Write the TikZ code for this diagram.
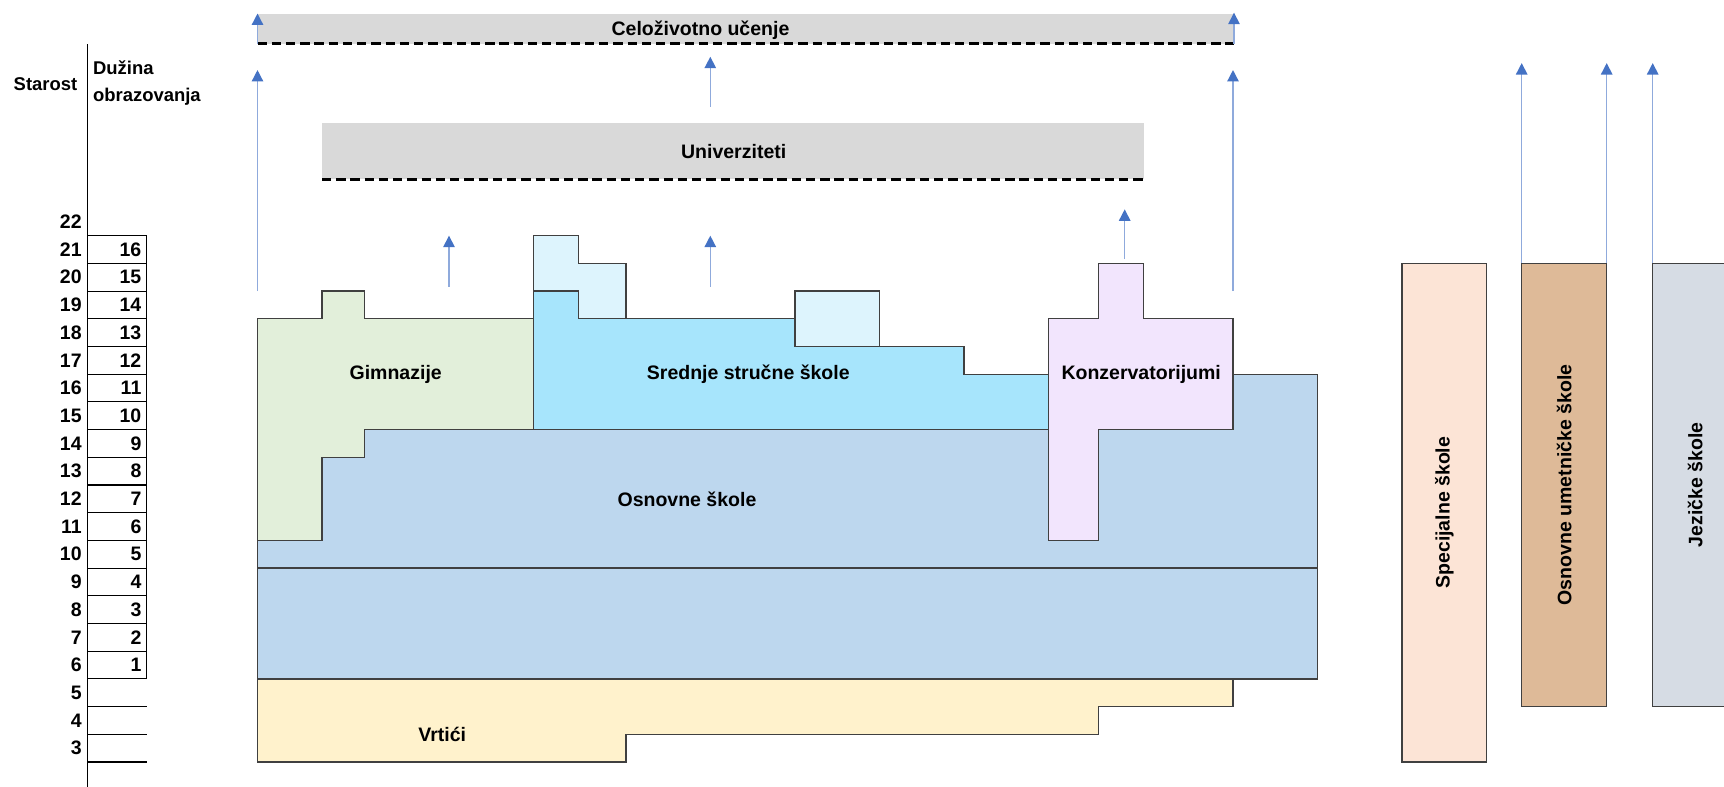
\documentclass[tikz,border=0pt]{standalone}
\usepackage{fontspec}
\setmainfont{Liberation Sans}
\usepackage{xcolor}
\usepackage{tikz}
\usetikzlibrary{positioning,%
  arrows.meta%
}

\definecolor{sivo}{HTML}{D9D9D9}
\definecolor{zelena}{HTML}{E2EFDA}
\definecolor{osnplava}{HTML}{BDD7EE}
\definecolor{tirkiz}{HTML}{A7E5FC}
\definecolor{bledoplava}{HTML}{DDF4FD}
\definecolor{lila}{HTML}{F2E5FD}
\definecolor{zuta}{HTML}{FFF2CC}
\definecolor{breskva}{HTML}{FCE4D6}
\definecolor{bez}{HTML}{DEBA98}
\definecolor{sivoplava}{HTML}{D6DCE4}
\definecolor{linijaplava}{HTML}{8FAADC}
\definecolor{strelicaplava}{HTML}{4472C4}

\begin{document}
\begin{tikzpicture}
  [
    x=1cm, y=0.554cm,
    every node/.style={font=\bfseries\fontsize{11.1}{13}\selectfont, inner sep=0pt},
    blok/.style={draw=black!75, line width=0.75pt},
    strelica/.style={draw=linijaplava, line width=0.8pt,
      -{Triangle[length=6.5pt,width=6.5pt,color=strelicaplava]}},
    crtkano/.style={line width=1.7pt, dash pattern=on 5.3pt off 2.8pt},
    broj/.style={anchor=east},
    zaglavlje/.style={font=\bfseries\fontsize{10.5}{15.2}\selectfont}
  ]

  \useasboundingbox (0,2.0975) rectangle (34.48,30.509);
  \clip (0,2.0975) rectangle (34.48,30.509);

  % starost i duzina obrazovanja
  \draw[line width=0.7pt] (1.746,2.0975) -- (1.746,28.92);
  \node[zaglavlje] (starost) at (0.91,27.48) {Starost};
  \node[zaglavlje, align=left, anchor=west] (duzina) at (1.854,27.5) {Dužina\\obrazovanja};
  \foreach \a in {3,...,22}
    \node[broj] (age\a) at (1.64,\a+0.5) {\a};
  \foreach \d in {1,...,16} {
    \pgfmathtruncatemacro\a{\d+5}
    \draw[line width=0.6pt] (1.746,\a) rectangle (2.934,\a+1);
    \node[broj] (dur\d) at (2.834,\a+0.5) {\d};
  }
  \foreach \a in {3,4,5}
    \draw[line width=0.6pt] (1.746,\a) -- (2.934,\a);

  % celozivotno ucenje i univerziteti
  \fill[sivo] (5.15,28.93) rectangle (24.68,30);
  \draw[crtkano] (5.15,28.93) -- (24.68,28.93);
  \fill[sivo] (6.44,24.03) rectangle (22.87,26.06);
  \draw[crtkano] (6.44,24.03) -- (22.87,24.03);

  \foreach \x/\ya/\yb [count=\i] in {5.15/28.93/30.02, 24.68/28.93/30.05,
      5.15/20/27.98, 14.206/26.66/28.46, 24.66/20/27.98,
      8.98/20.16/22, 14.206/20.16/22, 22.494/21.15/22.95,
      30.434/21/28.23, 32.134/21/28.23, 33.054/21/28.23} {
    \coordinate (od\i) at (\x,\ya);
    \coordinate (do\i) at (\x,\yb);
    \draw[strelica] (od\i) -- (do\i);
  }

  % osnovne skole
  \draw[blok, fill=osnplava] (5.15,6) rectangle (26.354,10);
  \draw[blok, fill=osnplava] (5.15,10) -- (5.15,11) -- (6.44,11) -- (6.44,14)
    -- (7.29,14) -- (7.29,15) -- (24.66,15) -- (24.66,17) -- (26.354,17)
    -- (26.354,10) -- cycle;

  % gimnazije
  \draw[blok, fill=zelena] (5.15,11) -- (5.15,19) -- (6.44,19) -- (6.44,20)
    -- (7.29,20) -- (7.29,19) -- (10.666,19) -- (10.666,15) -- (7.29,15)
    -- (7.29,14) -- (6.44,14) -- (6.44,11) -- cycle;

  % srednje strucne skole
  \draw[blok, fill=bledoplava] (10.666,19) -- (10.666,22) -- (11.57,22)
    -- (11.57,21) -- (12.52,21) -- (12.52,19) -- cycle;
  \draw[blok, fill=bledoplava] (15.9,18) rectangle (17.586,20);
  \draw[blok, fill=tirkiz] (10.666,15) -- (10.666,20) -- (11.57,20)
    -- (11.57,19) -- (15.9,19) -- (15.9,18) -- (19.28,18) -- (19.28,17)
    -- (20.966,17) -- (20.966,15) -- cycle;

  % konzervatorijumi
  \draw[blok, fill=lila] (20.966,11) -- (20.966,19) -- (21.966,19)
    -- (21.966,21) -- (22.87,21) -- (22.87,19) -- (24.66,19) -- (24.66,15)
    -- (21.966,15) -- (21.966,11) -- cycle;

  % vrtici
  \draw[blok, fill=zuta] (5.15,3) -- (5.15,6) -- (24.66,6) -- (24.66,5)
    -- (21.966,5) -- (21.966,4) -- (12.52,4) -- (12.52,3) -- cycle;

  % ostale skole
  \draw[blok, fill=breskva] (28.04,3) rectangle (29.734,21);
  \draw[blok, fill=bez] (30.434,5) rectangle (32.134,21);
  \draw[blok, fill=sivoplava] (33.054,5) rectangle (34.754,21);

  \node (celo) at (14.01,29.43) {Celoživotno učenje};
  \node (univ) at (14.674,25.05) {Univerziteti};
  \node (gimn) at (7.914,17) {Gimnazije};
  \node (sred) at (14.966,17) {Srednje stručne škole};
  \node (konz) at (22.824,17) {Konzervatorijumi};
  \node (osn) at (13.74,12.5) {Osnovne škole};
  \node (vrt) at (8.846,4) {Vrtići};
  \node[rotate=90] (spec) at (28.887,12) {Specijalne škole};
  \node[rotate=90] (umet) at (31.284,13) {Osnovne umetničke škole};
  \node[rotate=90] (jez) at (33.904,13) {Jezičke škole};
\end{tikzpicture}
\end{document}
